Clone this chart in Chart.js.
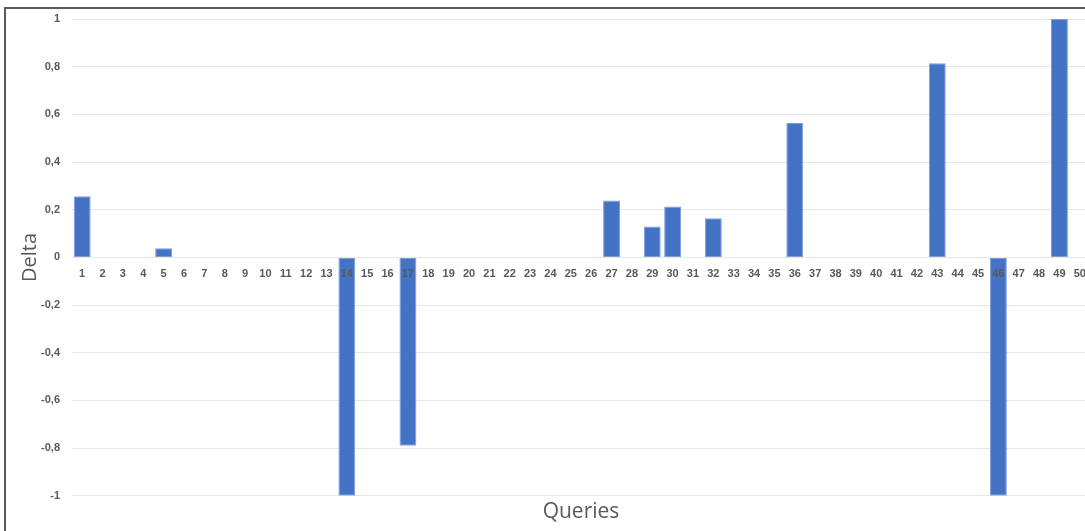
<!DOCTYPE html>
<html>
<head>
<meta charset="utf-8">
<script src="https://cdn.jsdelivr.net/npm/chart.js@4/dist/chart.umd.min.js"></script>
<style>
  html, body { margin: 0; padding: 0; background: #ffffff; overflow: hidden; }
  body { width: 1085px; height: 531px; position: relative; }
  #frame {
    position: absolute; left: 4px; top: 7px; width: 1200px; height: 600px;
    border-left: 2px solid #5a5a5a; border-top: 2px solid #5a5a5a;
    pointer-events: none; z-index: 2;
  }
  #wrap { position: absolute; left: 0; top: 0; width: 1100px; height: 531px; }
</style>
</head>
<body>
<div id="wrap"><canvas id="c" width="1100" height="531"></canvas></div>
<div id="frame"></div>
<script>
// Query numbers along the horizontal axis
const queries = Array.from({ length: 50 }, (_, i) => String(i + 1));

// Delta per query (queries 1..50)
const deltaValues = [
  0.256, 0, 0, 0, 0.038, 0, 0, 0, 0, 0,
  0, 0, 0, -1, 0, 0, -0.79, 0, 0, 0,
  0, 0, 0, 0, 0, 0, 0.239, 0, 0.13, 0.214,
  0, 0.164, 0, 0, 0, 0.564, 0, 0, 0, 0,
  0, 0, 0.814, 0, 0, -1, 0, 0, 1, 0
];

// Vertical axis range and step
const yMin = -1;
const yMax = 1;
const yStep = 0.2;

const labelColor = '#595959';
const gridColor = '#e6e6e6';

new Chart(document.getElementById('c'), {
  type: 'bar',
  data: {
    labels: queries,
    datasets: [{
      data: deltaValues,
      backgroundColor: '#4472c4',
      borderColor: '#7d9ddb',
      borderWidth: 1,
      borderSkipped: false,
      categoryPercentage: 1,
      barPercentage: 0.83
    }]
  },
  options: {
    responsive: false,
    animation: false,
    layout: { padding: { top: 19, right: 10, bottom: 2, left: 0 } },
    plugins: {
      legend: { display: false },
      tooltip: { enabled: false },
      title: {
        display: true,
        text: 'Queries',
        position: 'bottom',
        fullSize: false,
        color: labelColor,
        font: { family: '"Open Sans", "Liberation Sans", sans-serif', size: 21, weight: 'normal', lineHeight: 1.2 },
        padding: { top: 4, bottom: 4 }
      }
    },
    scales: {
      x: {
        position: { y: 0 },
        offset: true,
        grid: { display: false, drawTicks: false },
        border: { display: false },
        ticks: {
          z: 1,
          color: labelColor,
          autoSkip: false,
          maxRotation: 0,
          minRotation: 0,
          padding: 10,
          font: { family: '"Liberation Sans", "Open Sans", sans-serif', size: 11, weight: 'bold' }
        }
      },
      y: {
        min: yMin,
        max: yMax,
        afterFit: (scale) => { scale.width = 72; },
        grid: { color: gridColor, lineWidth: 1, drawTicks: false },
        border: { display: false },
        ticks: {
          stepSize: yStep,
          color: labelColor,
          padding: 12,
          font: { family: '"Liberation Sans", "Open Sans", sans-serif', size: 11, weight: 'bold' },
          callback: (v) => String(Math.round(v * 10) / 10).replace('.', ',')
        },
        title: {
          display: true,
          text: 'Delta',
          color: labelColor,
          padding: { top: 18, bottom: 0 },
          font: { family: '"Open Sans", "Liberation Sans", sans-serif', size: 20, weight: 'normal', lineHeight: 1.2 }
        }
      }
    }
  }
});
</script>
</body>
</html>
